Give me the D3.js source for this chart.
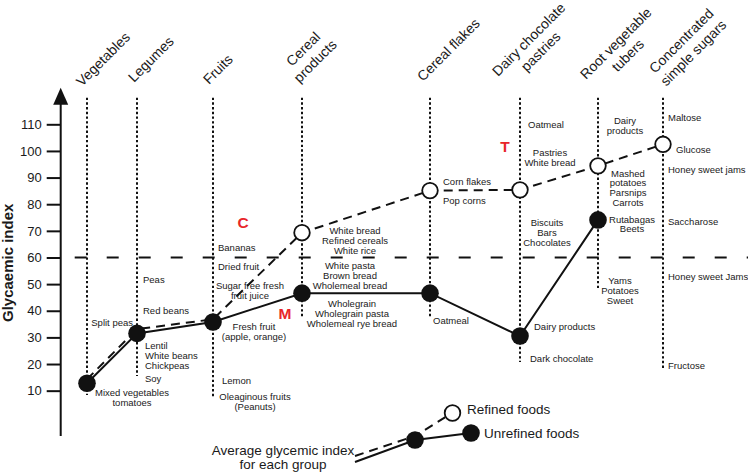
<!DOCTYPE html>
<html><head><meta charset="utf-8">
<script src="https://cdn.jsdelivr.net/npm/d3@7"></script>
<style>
body{margin:0;background:#fff}
svg{display:block}
text{font-family:"Liberation Sans",Arial,Helvetica,sans-serif;fill:#1a1a1a}
</style>
</head><body><svg id="chart" width="748" height="472"></svg>
<script>
// ---------------- data ----------------
const categories = ["Vegetables","Legumes","Fruits","Cereal products","Cereal flakes",
  "Dairy chocolate pastries","Root vegetable tubers","Concentrated simple sugars"];
const headerLines = [["Vegetables"],["Legumes"],["Fruits"],["Cereal","products"],["Cereal flakes"],
  ["Dairy chocolate","pastries"],["Root vegetable","tubers"],["Concentrated","simple sugars"]];
const unrefinedGI = [12.8, 31.5, 35.8, 46.6, 46.6, 30.5, 74.1, null];
const refinedGI   = [14.3, 33.1, 36.8, 69.3, 85.1, 85.4, 94.4, 102.5];
const yTicks = [10,20,30,40,50,60,70,80,90,100,110];
const thresholdGI = 60;
const yTitle = "Glycaemic index";
const zoneLetters = ["C","M","T"];
const legendTexts = ["Refined foods","Unrefined foods"];
const legendNote = ["Average glycemic index","for each group"];
const foodLabels = [
 {c:0, t:["Mixed vegetables","tomatoes"]},
 {c:1, t:["Split peas"]},
 {c:1, t:["Peas"]},
 {c:1, t:["Red beans"]},
 {c:1, t:["Lentil","White beans","Chickpeas"]},
 {c:1, t:["Soy"]},
 {c:2, t:["Bananas"]},
 {c:2, t:["Dried fruit"]},
 {c:2, t:["Sugar free fresh","fruit juice"]},
 {c:2, t:["Fresh fruit","(apple, orange)"]},
 {c:2, t:["Lemon"]},
 {c:2, t:["Oleaginous fruits","(Peanuts)"]},
 {c:3, t:["White bread","Refined cereals","White rice"]},
 {c:3, t:["White pasta","Brown bread","Wholemeal bread"]},
 {c:3, t:["Wholegrain","Wholegrain pasta","Wholemeal rye bread"]},
 {c:4, t:["Corn flakes"]},
 {c:4, t:["Pop corns"]},
 {c:4, t:["Oatmeal"]},
 {c:5, t:["Oatmeal"]},
 {c:5, t:["Pastries","White bread"]},
 {c:5, t:["Biscuits","Bars","Chocolates"]},
 {c:5, t:["Dairy products"]},
 {c:5, t:["Dark chocolate"]},
 {c:6, t:["Dairy","products"]},
 {c:6, t:["Mashed","potatoes","Parsnips","Carrots"]},
 {c:6, t:["Rutabagas","Beets"]},
 {c:6, t:["Yams","Potatoes","Sweet"]},
 {c:7, t:["Maltose"]},
 {c:7, t:["Glucose"]},
 {c:7, t:["Honey sweet jams"]},
 {c:7, t:["Saccharose"]},
 {c:7, t:["Honey sweet Jams"]},
 {c:7, t:["Fructose"]}
];

// ---------------- layout (positions / styles) ----------------
const labelPos = [
 {dx:45,y:393,a:"middle"},{dx:-4,y:323,a:"end"},{dx:6,y:280,a:"start"},{dx:6,y:311,a:"start"},
 {dx:8,y:346,a:"start"},{dx:8,y:379,a:"start"},
 {dx:5,y:248,a:"start"},{dx:5,y:266.5,a:"start"},{dx:37,y:286,a:"middle"},{dx:41,y:327,a:"middle"},
 {dx:9,y:381,a:"start"},{dx:42,y:396.5,a:"middle"},
 {dx:53,y:231,a:"middle"},{dx:48,y:266,a:"middle"},{dx:50,y:304,a:"middle"},
 {dx:13,y:182,a:"start"},{dx:13,y:201,a:"start"},{dx:3,y:321,a:"start"},
 {dx:8,y:125,a:"start"},{dx:30,y:152.7,a:"middle"},{dx:27,y:223,a:"middle"},{dx:14,y:327,a:"start"},{dx:10,y:358.5,a:"start"},
 {dx:27,y:120.7,a:"middle"},{dx:30,y:173.3,a:"middle"},{dx:34,y:219.3,a:"middle"},{dx:22,y:281,a:"middle"},
 {dx:5,y:117.3,a:"start"},{dx:13,y:149.3,a:"start"},{dx:5,y:169.3,a:"start"},{dx:5,y:221.7,a:"start"},
 {dx:5,y:276.7,a:"start"},{dx:5,y:366,a:"start"}
];
const headerPos = [{dx:-5,y:87},{dx:-3,y:83},{dx:-4,y:85},{dx:-10,y:67},{dx:-7,y:82},{dx:-22,y:77},{dx:-12,y:80},{dx:-8,y:74}];
const guideBottom = [395,376,398,318,318,362,288,369];
const zonePos = [{x:243,y:222.7},{x:285,y:313},{x:505,y:146}];

const svg = d3.select("#chart");
const x = d3.scaleOrdinal().domain(categories).range([87,137,213,302,430,520,598,663]);
const y = d3.scaleLinear().domain([0,110]).range([417.3,124.3]);
const axisX = 60.7;
const INK = "#111";

// vertical dotted guides
svg.append("g").selectAll("line").data(categories).join("line")
  .attr("x1", d=>x(d)).attr("x2", d=>x(d))
  .attr("y1", y(120)).attr("y2", (d,i)=>guideBottom[i])
  .attr("stroke", INK).attr("stroke-width", 2).attr("stroke-dasharray","2.4,2.3");

// threshold dashed
svg.append("line").attr("x1", axisX+2).attr("x2", 748)
  .attr("y1", y(thresholdGI)).attr("y2", y(thresholdGI))
  .attr("stroke", INK).attr("stroke-width", 2).attr("stroke-dasharray","0,12,12,8");

// y axis
const yAxis = d3.axisLeft(y).tickValues(yTicks).tickSize(14).tickPadding(5);
const ga = svg.append("g").attr("transform",`translate(${axisX},0)`).call(yAxis);
ga.select(".domain").remove();
ga.selectAll(".tick line").attr("stroke", INK).attr("stroke-width", 2);
ga.selectAll(".tick text").attr("font-size", 13).attr("fill","#1a1a1a")
  .style("font-family","'Liberation Sans',Arial,sans-serif");
svg.append("line").attr("x1", axisX).attr("x2", axisX).attr("y1", y(-7)).attr("y2", y(118))
  .attr("stroke", INK).attr("stroke-width", 2);
svg.append("path").attr("d", `M${axisX},${y(123.7)} L${axisX-7.5},${y(117.3)} L${axisX+7.5},${y(117.3)} Z`).attr("fill", INK);

svg.append("text").attr("transform",`translate(13,${y(58)}) rotate(-90)`)
  .attr("text-anchor","middle").attr("font-size",15).attr("font-weight","bold").text(yTitle);

// header labels (rotated)
categories.forEach((c,i)=>{
  const g = svg.append("g").attr("transform",`translate(${x(c)+headerPos[i].dx},${headerPos[i].y}) rotate(-45)`);
  const lines = headerLines[i];
  const t1 = g.append("text").attr("font-size",14).attr("x",0).attr("y",0).text(lines[0]);
  if (lines.length>1){
    const w1 = t1.node().getComputedTextLength();
    g.append("text").attr("font-size",14).attr("text-anchor","middle")
      .attr("x", w1/2).attr("y", 17).text(lines[1]);
  }
});

// data lines
const refPts = categories.map((c,i)=>[x(c), y(refinedGI[i])]);
const unrPts = categories.map((c,i)=>unrefinedGI[i]==null?null:[x(c), y(unrefinedGI[i])]).filter(d=>d);
const line = d3.line();
svg.append("path").attr("d", line(refPts)).attr("fill","none").attr("stroke",INK)
  .attr("stroke-width",2).attr("stroke-dasharray","9,6");
svg.append("path").attr("d", line(unrPts)).attr("fill","none").attr("stroke",INK).attr("stroke-width",2);

// markers
svg.append("g").selectAll("circle").data(categories.filter((c,i)=>unrefinedGI[i]==null || refinedGI[i]-unrefinedGI[i]>5))
  .join("circle").attr("cx", d=>x(d)).attr("cy", d=>y(refinedGI[categories.indexOf(d)]))
  .attr("r", 7.8).attr("fill","#fff").attr("stroke",INK).attr("stroke-width",1.8);
svg.append("g").selectAll("circle").data(categories.filter((c,i)=>unrefinedGI[i]!=null))
  .join("circle").attr("cx", d=>x(d)).attr("cy", d=>y(unrefinedGI[categories.indexOf(d)]))
  .attr("r", 8.8).attr("fill",INK);

// food labels
const LH = 9.7;
foodLabels.forEach((L,k)=>{
  const p = labelPos[k];
  const t = svg.append("text").attr("font-size",9.5).attr("text-anchor",p.a);
  L.t.forEach((s,j)=>{
    t.append("tspan").attr("x", x(categories[L.c])+p.dx).attr("y", p.y+3.4+j*LH).text(s);
  });
});

// zone letters
svg.append("g").selectAll("text").data(zoneLetters).join("text")
  .attr("x",(d,i)=>zonePos[i].x).attr("y",(d,i)=>zonePos[i].y+5.5)
  .attr("text-anchor","middle").attr("font-size",15.5).attr("font-weight","bold")
  .style("fill","#e8262a").text(d=>d);

// legend
const lg = svg.append("g");
lg.append("path").attr("d","M355,456 L415,436 L452,413").attr("fill","none").attr("stroke",INK)
  .attr("stroke-width",2).attr("stroke-dasharray","9,6");
lg.append("path").attr("d","M355,462 L415,440 L471,433").attr("fill","none").attr("stroke",INK).attr("stroke-width",2);
lg.append("circle").attr("cx",452.5).attr("cy",413).attr("r",7.8).attr("fill","#fff").attr("stroke",INK).attr("stroke-width",1.8);
lg.append("circle").attr("cx",415).attr("cy",440).attr("r",8.8).attr("fill",INK);
lg.append("circle").attr("cx",471).attr("cy",433).attr("r",8.8).attr("fill",INK);
lg.append("text").attr("x",467).attr("y",414).attr("font-size",13.5).text(legendTexts[0]);
lg.append("text").attr("x",484).attr("y",438).attr("font-size",13.5).text(legendTexts[1]);
lg.append("text").attr("x",283).attr("y",455).attr("font-size",13.5).attr("text-anchor","middle").text(legendNote[0]);
lg.append("text").attr("x",283).attr("y",468.5).attr("font-size",13.5).attr("text-anchor","middle").text(legendNote[1]);
</script>
</body></html>
